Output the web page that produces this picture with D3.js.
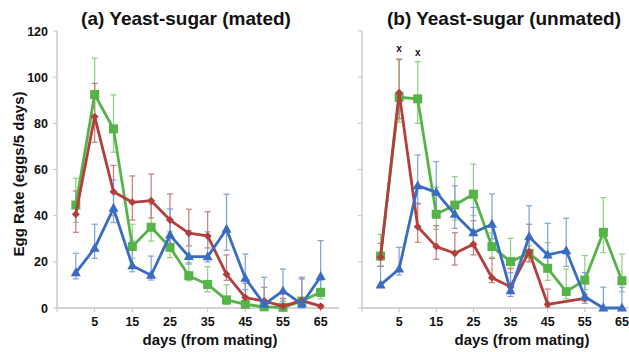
<!DOCTYPE html>
<html>
<head>
<meta charset="utf-8">
<script src="https://cdn.jsdelivr.net/npm/d3@7"></script>
<style>
  body { margin: 0; background: #fff; }
  text { font-family: "Liberation Sans", Arial, sans-serif; font-weight: bold; fill: #111; }
</style>
</head>
<body>
<div id="chart"></div>
<script>
const days = [0, 5, 10, 15, 20, 25, 30, 35, 40, 45, 50, 55, 60, 65];
const xTicks = [5, 15, 25, 35, 45, 55, 65];
const yTicks = [0, 20, 40, 60, 80, 100, 120];

// (a) mated
const matedGreen   = [44.6, 92.5, 77.6, 26.6, 35.0, 26.3, 14.0, 10.2, 3.5, 1.6, 0.5, 0.3, 3.0, 6.8];
const matedGreenHi = [56.2, 108.2, 92.3, 36.3, 45.0, 33.0, 19.6, 17.9, 10.0, 5.0, 1.5, 4.0, 4.5, 12.0];
const matedGreenLo = [37.1, 80.0, 67.5, 21.5, 29.0, 21.8, 11.8, 7.0, 1.5, 0.5, 0.0, 0.0, 1.5, 4.0];
const matedRed     = [40.6, 82.9, 50.4, 45.8, 46.5, 38.1, 32.4, 31.2, 14.6, 4.5, 3.0, 0.8, 3.2, 0.8];
const matedRedHi   = [50.7, 97.3, 61.8, 57.2, 58.0, 49.4, 42.8, 41.7, 23.0, 10.7, 9.0, 4.2, 12.6, 1.5];
const matedRedLo   = [32.8, 71.8, 40.0, 38.1, 39.0, 27.0, 26.9, 26.0, 12.0, 2.0, 1.0, 0.0, 0.5, 0.0];
const matedBlue    = [15.3, 25.9, 43.2, 18.3, 14.2, 31.6, 22.3, 22.2, 34.1, 12.9, 1.6, 7.4, 1.7, 13.6];
const matedBlueHi  = [23.7, 36.3, 55.5, 29.0, 22.5, 42.9, 33.5, 33.0, 49.3, 23.4, 13.3, 16.9, 13.3, 29.2];
const matedBlueLo  = [12.6, 21.5, 37.0, 15.7, 12.1, 26.0, 19.0, 20.0, 25.0, 8.0, 0.0, 3.0, 0.0, 5.0];

// (b) unmated (red has no values at 50, 60, 65)
const unmatedGreen   = [22.5, 91.3, 90.6, 40.6, 44.6, 49.3, 26.6, 20.1, 23.7, 17.2, 7.1, 12.1, 32.8, 11.8];
const unmatedGreenHi = [31.9, 107.5, 106.7, 52.3, 56.9, 62.3, 32.5, 30.2, 27.0, 28.3, 16.9, 22.7, 47.8, 23.4];
const unmatedGreenLo = [18.0, 80.5, 80.0, 34.1, 38.1, 40.0, 22.0, 17.0, 20.0, 12.0, 4.0, 8.0, 24.0, 7.0];
const unmatedRed     = [22.0, 93.3, 35.2, 26.6, 23.7, 27.6, 13.1, 9.2, 24.4, 1.6, null, 4.2, null, null];
const unmatedRedHi   = [28.0, 107.9, 45.4, 35.7, 32.6, 37.8, 21.5, 17.2, 36.3, 8.2, null, 6.0, null, null];
const unmatedRedLo   = [18.0, 82.0, 28.5, 21.1, 18.6, 23.0, 11.0, 7.0, 20.1, 0.5, null, 3.0, null, null];
const unmatedBlue    = [10.0, 16.9, 53.0, 50.1, 40.6, 32.6, 36.3, 7.5, 30.9, 23.0, 24.8, 4.9, 0.0, 0.0];
const unmatedBlueHi  = [18.2, 26.3, 66.3, 63.4, 52.9, 43.6, 49.4, 15.3, 44.3, 36.7, 38.9, 15.3, 9.0, 9.0];
const unmatedBlueLo  = [9.0, 14.3, 45.0, 42.0, 34.5, 27.0, 30.0, 5.0, 25.0, 18.0, 18.0, 2.0, 0.0, 0.0];
const starDays = [5, 10];
const starValues = [112.5, 111];

const colors = { green: '#55b347', red: '#b13f3c', blue: '#3a6cc1' };
const barColors = { green: '#8fcf82', red: '#c97a77', blue: '#7f9fdb' };

const W = 629, H = 352;
const svg = d3.select('#chart').append('svg').attr('width', W).attr('height', H);

const y = d3.scaleLinear().domain([0, 120]).range([308, 31]);

function panel(opts) {
  const x = d3.scaleLinear().domain([-5, 70]).range(opts.range);
  const g = svg.append('g');

  // axes
  g.append('line').attr('x1', x(-5)).attr('x2', Math.min(x(70), W - 1))
    .attr('y1', y(0)).attr('y2', y(0)).attr('stroke', '#c4c4c4').attr('stroke-width', 1.3);
  g.append('line').attr('x1', x(-5)).attr('x2', x(-5))
    .attr('y1', y(0)).attr('y2', y(120)).attr('stroke', '#c4c4c4').attr('stroke-width', 1.3);
  g.selectAll('.yt').data(yTicks).enter().append('line')
    .attr('x1', x(-5) - 4).attr('x2', x(-5)).attr('y1', d => y(d)).attr('y2', d => y(d))
    .attr('stroke', '#c4c4c4');
  g.selectAll('.xt').data([-5].concat(xTicks)).enter().append('line')
    .attr('x1', d => x(d)).attr('x2', d => x(d)).attr('y1', y(0)).attr('y2', y(0) + 4)
    .attr('stroke', '#c4c4c4');
  if (opts.yLabels) {
    g.selectAll('.yl').data(yTicks).enter().append('text')
      .attr('x', x(-5) - 9).attr('y', d => y(d) + 4.5)
      .attr('text-anchor', 'end').style('font-size', '12.5px').text(d => d);
  }
  g.selectAll('.xl').data(xTicks).enter().append('text')
    .attr('x', d => x(d)).attr('y', y(0) + 18)
    .attr('text-anchor', 'middle').style('font-size', '12.5px').text(d => d);
  g.append('text').attr('x', opts.xTitleX).attr('y', 345).attr('text-anchor', 'middle')
    .style('font-size', '15px').text('days (from mating)');
  g.append('text').attr('x', opts.titleX).attr('y', 25).attr('text-anchor', 'middle')
    .style('font-size', '19px').text(opts.title);

  opts.series.forEach(s => {
    const pts = days.map((d, i) => ({ d, v: s.v[i], hi: s.hi[i], lo: s.lo[i] }))
      .filter(p => p.v !== null);
    const bc = barColors[s.c];
    // error bars
    const eb = g.append('g').attr('stroke', bc).attr('stroke-width', 1.2);
    pts.forEach(p => {
      eb.append('line').attr('x1', x(p.d)).attr('x2', x(p.d)).attr('y1', y(p.hi)).attr('y2', y(p.lo));
      [p.hi, p.lo].forEach(e => {
        eb.append('line').attr('x1', x(p.d) - 3).attr('x2', x(p.d) + 3).attr('y1', y(e)).attr('y2', y(e));
      });
    });
    s.pts = pts;
  });
  opts.series.forEach(s => {
    const c = colors[s.c];
    g.append('path').datum(s.pts).attr('fill', 'none').attr('stroke', c).attr('stroke-width', 2.8)
      .attr('stroke-linejoin', 'round')
      .attr('d', d3.line().x(p => x(p.d)).y(p => y(p.v)));
    const m = g.append('g').attr('fill', c);
    s.pts.forEach(p => {
      const cx = x(p.d), cy = y(p.v);
      if (s.c === 'green') {
        m.append('rect').attr('x', cx - 4.5).attr('y', cy - 4.5).attr('width', 9).attr('height', 9);
      } else if (s.c === 'red') {
        m.append('path').attr('d', `M${cx},${cy - 4}L${cx + 4},${cy}L${cx},${cy + 4}L${cx - 4},${cy}Z`);
      } else {
        m.append('path').attr('d', `M${cx},${cy - 5.5}L${cx + 5},${cy + 3.5}L${cx - 5},${cy + 3.5}Z`);
      }
    });
  });
  if (opts.stars) {
    g.selectAll('.st').data(starDays).enter().append('text')
      .attr('x', d => x(d)).attr('y', (d, i) => y(starValues[i]) + 4)
      .attr('text-anchor', 'middle').style('font-size', '10px').text('x');
  }
  return x;
}

panel({
  range: [57, 339.5], yLabels: true, title: '(a) Yeast-sugar (mated)', titleX: 186, xTitleX: 210,
  series: [
    { c: 'green', v: matedGreen, hi: matedGreenHi, lo: matedGreenLo },
    { c: 'red', v: matedRed, hi: matedRedHi, lo: matedRedLo },
    { c: 'blue', v: matedBlue, hi: matedBlueHi, lo: matedBlueLo }
  ]
});
panel({
  range: [362, 640.5], yLabels: false, title: '(b) Yeast-sugar (unmated)', titleX: 504, xTitleX: 522,
  stars: true,
  series: [
    { c: 'green', v: unmatedGreen, hi: unmatedGreenHi, lo: unmatedGreenLo },
    { c: 'red', v: unmatedRed, hi: unmatedRedHi, lo: unmatedRedLo },
    { c: 'blue', v: unmatedBlue, hi: unmatedBlueHi, lo: unmatedBlueLo }
  ]
});

svg.append('text').attr('transform', 'translate(24,174) rotate(-90)')
  .attr('text-anchor', 'middle').style('font-size', '15px').text('Egg Rate (eggs/5 days)');
</script>
</body>
</html>
